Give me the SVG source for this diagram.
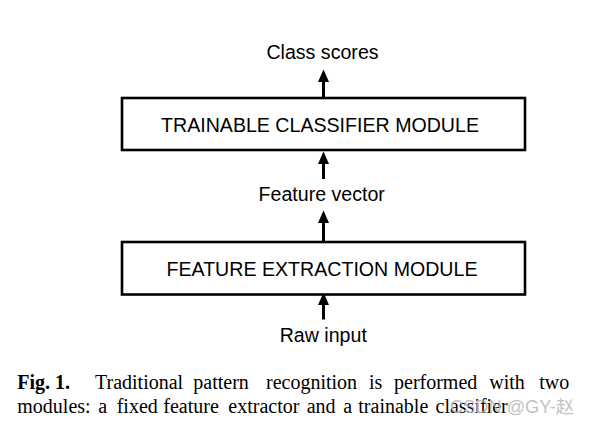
<svg xmlns="http://www.w3.org/2000/svg" width="589" height="427" viewBox="0 0 589 427">
<style>
.box{fill:#fff;stroke:#000;stroke-width:2.6}
.lbl{font-family:"Liberation Sans",Arial,sans-serif;font-size:19.6px;fill:#000;text-anchor:middle}
.cap{font-family:"Liberation Serif","Times New Roman",serif;font-size:20px;fill:#000}
.shaft{stroke:#000;stroke-width:3;fill:none}
.head{fill:#000}
.wm{font-family:"Liberation Sans",Arial,"Noto Sans CJK SC",sans-serif;font-size:17.5px;fill:#b8b8b8;opacity:0.85}
</style>
<rect width="589" height="427" fill="#fff"/>
<g id="connectors">
<line class="shaft" x1="323.5" y1="98" x2="323.5" y2="80"/>
<path class="head" d="M318,82 L323.5,69.5 L329,82 Z"/>
<line class="shaft" x1="323.5" y1="179" x2="323.5" y2="162"/>
<path class="head" d="M318,164 L323.5,151.5 L329,164 Z"/>
<line class="shaft" x1="323.5" y1="242" x2="323.5" y2="221"/>
<path class="head" d="M318,223 L323.5,210.5 L329,223 Z"/>
<line class="shaft" x1="323.5" y1="319.5" x2="323.5" y2="303"/>
<path class="head" d="M318,305 L323.5,292.5 L329,305 Z"/>
</g>
<g id="class-scores"><text class="lbl" x="322.5" y="59">Class scores</text></g>
<g id="classifier">
<rect class="box" x="122" y="98" width="403" height="52"/>
<text class="lbl" x="320" y="131.5">TRAINABLE CLASSIFIER MODULE</text>
</g>
<g id="feature-vector"><text class="lbl" x="321.7" y="201">Feature vector</text></g>
<g id="extractor">
<rect class="box" x="122" y="242" width="403" height="52.5"/>
<text class="lbl" x="322" y="276">FEATURE EXTRACTION MODULE</text>
</g>
<g id="raw-input"><text class="lbl" x="323.3" y="342">Raw input</text></g>
<g id="caption">
<text class="cap" y="389"><tspan x="17.3" font-weight="bold">Fig. 1.</tspan><tspan x="95">Traditional</tspan><tspan x="193.3">pattern</tspan><tspan x="266">recognition</tspan><tspan x="369">is</tspan><tspan x="394">performed</tspan><tspan x="489.3">with</tspan><tspan x="539.3">two</tspan></text>
<text class="cap" y="412.7"><tspan x="17.3">modules:</tspan><tspan x="98.3">a</tspan><tspan x="116.7">fixed</tspan><tspan x="163.3">feature</tspan><tspan x="228.3">extractor</tspan><tspan x="306.7">and</tspan><tspan x="343.3">a</tspan><tspan x="358.3">trainable</tspan><tspan x="435.5">classifier</tspan></text>
<text class="wm" x="450" y="413" textLength="124" lengthAdjust="spacingAndGlyphs">CSDN @GY-赵</text>
</g>
</svg>
